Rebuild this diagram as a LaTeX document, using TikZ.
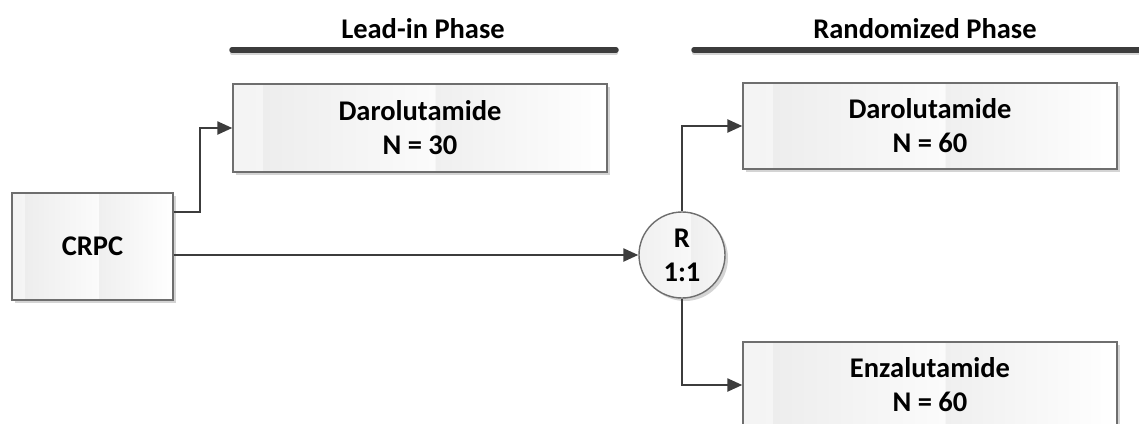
\documentclass[tikz,border=0pt]{standalone}
\usepackage{fontspec}
\setmainfont{Carlito}
\usetikzlibrary{arrows.meta,shadows}
\definecolor{lc}{HTML}{3C3C3C}
\definecolor{bc}{HTML}{6E6E6E}
\definecolor{bw}{HTML}{FCFCFC}
\definecolor{ga}{HTML}{EAEAEA}
\definecolor{gb}{HTML}{F5F5F5}
\definecolor{gc}{HTML}{EDEDED}
\definecolor{gd}{HTML}{FBFBFB}
\definecolor{ge}{HTML}{EFEFEF}
\definecolor{gf}{HTML}{FFFFFF}
\definecolor{gg}{HTML}{EBEBEB}
\definecolor{gh}{HTML}{F8F8F8}
\definecolor{gi}{HTML}{E4E4E4}
\definecolor{shc}{HTML}{D4D4D4}
\pgfdeclarehorizontalshading{bands}{100bp}{color(0bp)=(bw); color(6bp)=(bw); color(6.01bp)=(ga); color(29bp)=(gb); color(29.01bp)=(gc); color(52bp)=(gd); color(52.01bp)=(ge); color(75bp)=(gf); color(75.01bp)=(gg); color(97bp)=(gh); color(97.01bp)=(gi); color(100bp)=(gi)}
\pgfdeclarehorizontalshading{cbands}{100bp}{color(0bp)=(ga); color(55bp)=(gh); color(55.01bp)=(ge); color(100bp)=(gf)}
\tikzset{
  txt/.style={font=\bfseries\fontsize{28.5bp}{34bp}\selectfont, align=center},
  box/.style={txt, draw=bc, line width=1.4bp, shading=bands, inner sep=0pt,
    drop shadow={shadow xshift=3bp, shadow yshift=-3bp, fill=shc, opacity=1}},
  rnode/.style={txt, circle, draw=bc, line width=1.4bp, shading=cbands, inner sep=0pt,
    minimum size=86bp,
    drop shadow={shadow xshift=3bp, shadow yshift=-3bp, fill=shc, opacity=1}},
  arr/.style={draw=lc, line width=2.4bp, -{Triangle[length=15bp,width=13bp]}},
  phase/.style={draw=lc, line width=5.5bp, line cap=round},
  phaseshadow/.style={draw=shc, line width=4bp, line cap=round},
}
\begin{document}
\begin{tikzpicture}[x=1bp,y=-1bp]
\useasboundingbox (0,0) rectangle (1139,423);
\clip (0,0) rectangle (1139,423);
% phase headers
\node[txt, anchor=base] (leadt) at (423,38) {Lead-in Phase};
\node[txt, anchor=base] (randt) at (925,38) {Randomized Phase};
\coordinate (l1) at (232,50);
\coordinate (l2) at (616,50);
\coordinate (r1) at (694,50);
\coordinate (r2) at (1150,50);
\draw[phaseshadow] ([yshift=-3bp]l1) -- ([yshift=-3bp]l2);
\draw[phaseshadow] ([yshift=-3bp]r1) -- ([yshift=-3bp]r2);
\draw[phase] (l1) -- (l2);
\draw[phase] (r1) -- (r2);
% boxes
\node[box, minimum width=161bp, minimum height=107bp] (crpc) at (92.5,246.5) {CRPC};
\node[box, minimum width=374bp, minimum height=88bp] (lead) at (420,128) {Darolutamide\\N = 30};
\node[box, minimum width=374bp, minimum height=86bp] (rand) at (930,126) {Darolutamide\\N = 60};
\node[box, minimum width=374bp, minimum height=86bp] (enz) at (930,385) {Enzalutamide\\N = 60};
\node[rnode] (R) at (682,255) {R\\1:1};
% connectors
\coordinate (c1) at (crpc.east |- 0,212);
\coordinate (k1) at (200,212);
\draw[arr] (c1) -- (k1) |- (lead.west);
\draw[arr] (crpc.east |- R.west) -- (R.west);
\draw[arr] (R.north) |- (rand.west);
\draw[arr] (R.south) |- (enz.west);
\end{tikzpicture}
\end{document}
